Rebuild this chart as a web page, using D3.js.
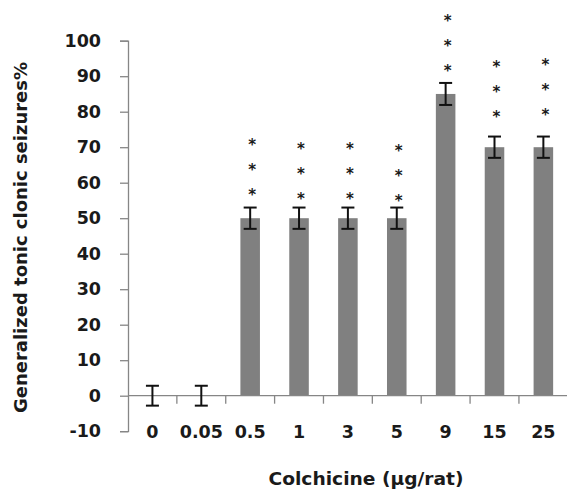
<!DOCTYPE html>
<html>
<head>
<meta charset="utf-8">
<script src="https://cdn.jsdelivr.net/npm/d3@7"></script>
<style>
  html, body { margin: 0; padding: 0; background: #fff; }
  svg { display: block; }
  text { font-family: "DejaVu Sans", sans-serif; font-weight: 700; fill: #1a1a1a; }
</style>
</head>
<body>
<svg id="chart" width="567" height="490"></svg>
<script>
// ---- data ----
const categories = ["0", "0.05", "0.5", "1", "3", "5", "9", "15", "25"];
const values = [0, 0, 50, 50, 50, 50, 85, 70, 70];
const errors = [2.8, 2.8, 3, 3, 3, 3, 3.1, 3, 3];
const starCounts = [0, 0, 3, 3, 3, 3, 3, 3, 3];
// value (data units) at which the lowest star of each column sits
const starBase = [0, 0, 57.3, 56.3, 56.3, 55.8, 92.2, 79.3, 79.8];
const yTicks = [-10, 0, 10, 20, 30, 40, 50, 60, 70, 80, 90, 100];
const yTitle = "Generalized tonic clonic seizures%";
const xTitle = "Colchicine (\u00b5g/rat)";

// ---- layout ----
const svg = d3.select("#chart");
const mLeft = 128, mRight = 567.8, mTop = 40.7, mBottom = 431.2;

const y = d3.scaleLinear().domain([-10, 100]).range([mBottom, mTop]);
const x = d3.scaleBand().domain(categories).range([mLeft, mRight])
  .paddingInner(0.6).paddingOuter(0.3);
const step = x.step();
const axisColor = "#868686";

// y axis
const yAxis = svg.append("g").attr("transform", `translate(${mLeft},0)`)
  .call(d3.axisLeft(y).tickValues(yTicks).tickFormat(d => String(d))
    .tickSize(8).tickSizeOuter(8).tickPadding(19));
yAxis.select(".domain").attr("stroke", axisColor).attr("stroke-width", 1.3);
yAxis.selectAll(".tick line").attr("stroke", axisColor).attr("stroke-width", 1.3);
yAxis.selectAll(".tick text").style("font-size", "17.5px").attr("fill", "#1a1a1a");

// bars
svg.append("g").selectAll("rect").data(values).join("rect")
  .attr("x", (d, i) => x(categories[i]))
  .attr("width", x.bandwidth())
  .attr("y", d => y(Math.max(0, d)))
  .attr("height", d => Math.abs(y(d) - y(0)))
  .attr("fill", "#808080");

// x axis line at zero
const y0 = y(0);
svg.append("line").attr("x1", mLeft).attr("x2", mRight).attr("y1", y0).attr("y2", y0)
  .attr("stroke", axisColor).attr("stroke-width", 1.3);
// category separators
svg.append("g").selectAll("line").data(d3.range(1, categories.length)).join("line")
  .attr("x1", i => mLeft + i * step).attr("x2", i => mLeft + i * step)
  .attr("y1", y0).attr("y2", y0 + 8)
  .attr("stroke", axisColor).attr("stroke-width", 1.3);
// category labels (at bottom of plot)
svg.append("g").selectAll("text").data(categories).join("text")
  .attr("x", d => x(d) + x.bandwidth() / 2)
  .attr("y", y(-10) + 6.5)
  .attr("text-anchor", "middle")
  .style("font-size", "17.5px")
  .text(d => d);

// error bars
const eb = svg.append("g").attr("stroke", "#111").attr("stroke-width", 2);
values.forEach((v, i) => {
  const cx = x(categories[i]) + x.bandwidth() / 2;
  const e = errors[i];
  eb.append("line").attr("x1", cx).attr("x2", cx).attr("y1", y(v + e)).attr("y2", y(v - e));
  eb.append("line").attr("x1", cx - 6.5).attr("x2", cx + 6.5).attr("y1", y(v + e)).attr("y2", y(v + e));
  eb.append("line").attr("x1", cx - 6.5).attr("x2", cx + 6.5).attr("y1", y(v - e)).attr("y2", y(v - e));
});

// significance stars
const sg = svg.append("g");
values.forEach((v, i) => {
  const cx = x(categories[i]) + x.bandwidth() / 2 + 2;
  for (let k = 0; k < starCounts[i]; k++) {
    sg.append("text").attr("x", cx).attr("y", y(starBase[i]) - k * 25 + 8)
      .attr("text-anchor", "middle")
      .style("font-size", "15px").style("font-weight", "700")
      .attr("fill", "#4a4460").text("*");
  }
});

// titles
svg.append("text").attr("transform", `translate(27,${237.5}) rotate(-90)`)
  .attr("text-anchor", "middle").style("font-size", "17px")
  .attr("textLength", 351).attr("lengthAdjust", "spacingAndGlyphs").text(yTitle);
svg.append("text").attr("x", 366).attr("y", 485)
  .attr("text-anchor", "middle").style("font-size", "17px")
  .attr("textLength", 195).attr("lengthAdjust", "spacingAndGlyphs").text(xTitle);
</script>
</body>
</html>
